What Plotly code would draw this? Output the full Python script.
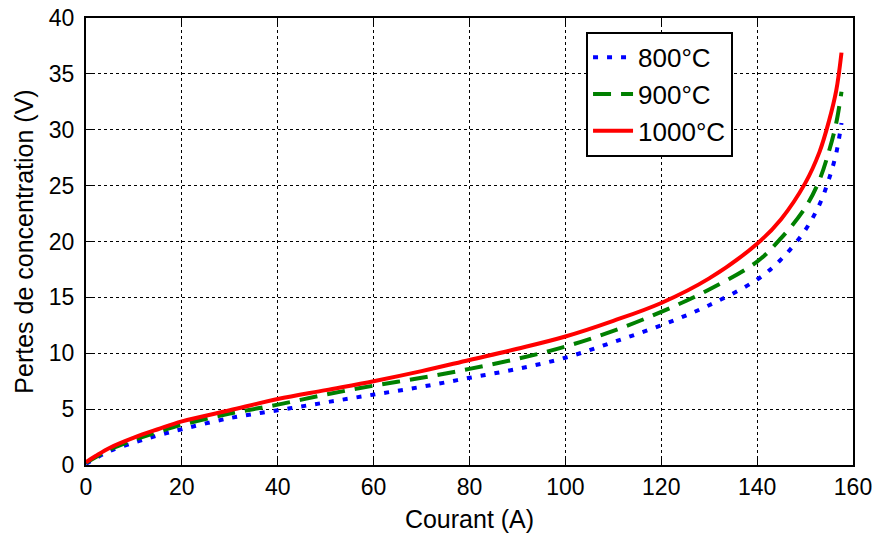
import plotly.graph_objects as go

courant = [0, 2, 5, 10, 15, 20, 30, 40, 50, 60, 70, 80, 90, 100, 110, 120, 130, 140, 145, 150, 153, 155, 156.5, 157.6]
pertes_800 = [0.1, 0.6, 1.25, 2.0, 2.65, 3.2, 4.2, 4.9, 5.6, 6.3, 7.0, 7.8, 8.6, 9.6, 11.0, 12.5, 14.3, 16.6, 18.4, 21.0, 23.3, 25.6, 27.9, 30.6]
pertes_900 = [0.2, 0.7, 1.4, 2.25, 2.95, 3.6, 4.6, 5.4, 6.3, 7.1, 7.8, 8.6, 9.5, 10.6, 12.0, 13.7, 15.7, 18.2, 20.3, 23.0, 25.5, 28.1, 30.6, 33.4]
pertes_1000 = [0.25, 0.8, 1.55, 2.45, 3.2, 3.9, 4.9, 5.9, 6.7, 7.5, 8.4, 9.4, 10.4, 11.5, 12.9, 14.5, 16.7, 19.8, 22.0, 25.2, 28.0, 30.8, 33.5, 36.9]

x_ticks = [0, 20, 40, 60, 80, 100, 120, 140, 160]
y_ticks = [0, 5, 10, 15, 20, 25, 30, 35, 40]

FONT = "Liberation Sans, Arial, sans-serif"

fig = go.Figure()
fig.add_trace(go.Scatter(x=courant, y=pertes_800, name="800°C", mode="lines",
                         line=dict(color="#0000ff", width=4, dash="5px,9px", shape="spline")))
fig.add_trace(go.Scatter(x=courant, y=pertes_900, name="900°C", mode="lines",
                         line=dict(color="#008000", width=4, dash="18px,10px", shape="spline")))
fig.add_trace(go.Scatter(x=courant, y=pertes_1000, name="1000°C", mode="lines",
                         line=dict(color="#ff0000", width=4, shape="spline")))

axis_common = dict(
    showgrid=True, gridcolor="black", gridwidth=1, griddash="dot",
    showline=True, linecolor="black", linewidth=2, mirror="ticks",
    ticks="inside", ticklen=6, tickcolor="black", tickwidth=1,
    zeroline=False, automargin=False,
    tickfont=dict(size=23, color="black", family=FONT),
)

fig.update_xaxes(range=[0, 160], tickvals=x_ticks,
                 title=dict(text="Courant (A)", font=dict(size=25, color="black", family=FONT), standoff=12),
                 **axis_common)
fig.update_yaxes(range=[0, 40], tickvals=y_ticks, ticklabelstandoff=5,
                 title=dict(text="Pertes de concentration (V)", font=dict(size=25, color="black", family=FONT), standoff=8),
                 **axis_common)

fig.update_layout(
    width=877, height=540,
    margin=dict(l=86, r=24, t=18, b=75),
    paper_bgcolor="white", plot_bgcolor="white",
    font=dict(family=FONT, color="black"),
    legend=dict(x=0.8436, y=0.969, xanchor="right", yanchor="top",
                bgcolor="white", bordercolor="black", borderwidth=2,
                font=dict(size=26, color="black", family=FONT),
                itemwidth=40, tracegroupgap=0),
    showlegend=True,
)

fig.write_html("out.html")
